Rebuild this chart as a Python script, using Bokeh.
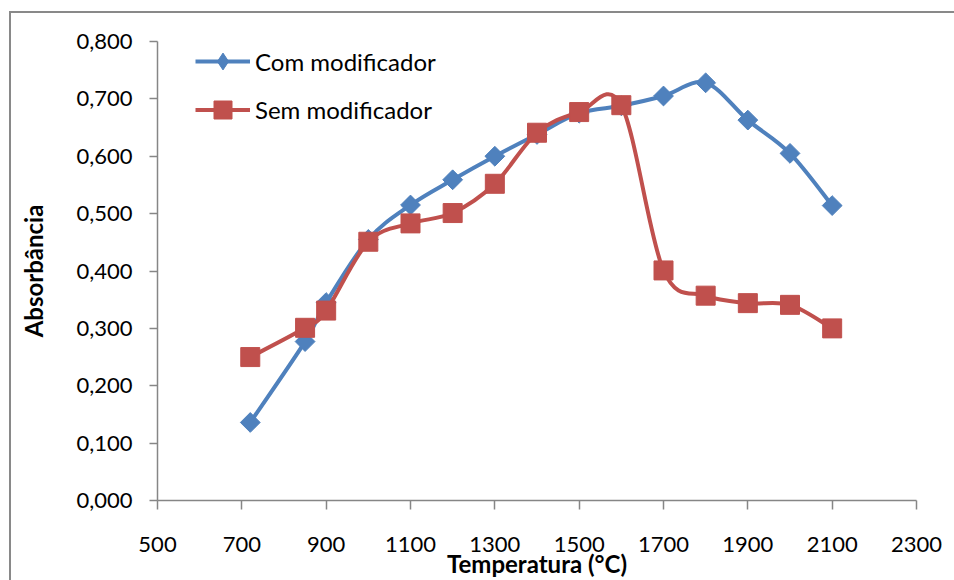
import numpy as np
from bokeh.plotting import figure
from bokeh.models import FixedTicker, CustomJSTickFormatter, Legend, LegendItem, InlineStyleSheet
from bokeh.embed import file_html
from bokeh.resources import INLINE

# ---- data ----
temperatura = [720, 850, 900, 1000, 1100, 1200, 1300, 1400, 1500, 1600, 1700, 1800, 1900, 2000, 2100]
com_modificador = [0.136, 0.277, 0.345, 0.455, 0.515, 0.559, 0.600, 0.638, 0.675, 0.688, 0.705, 0.728, 0.663, 0.605, 0.514]
sem_modificador = [0.250, 0.301, 0.331, 0.451, 0.483, 0.501, 0.552, 0.641, 0.677, 0.689, 0.401, 0.357, 0.344, 0.341, 0.300]
series_names = ["Com modificador", "Sem modificador"]
x_ticks = [500, 700, 900, 1100, 1300, 1500, 1700, 1900, 2100, 2300]
y_ticks = [0.0, 0.1, 0.2, 0.3, 0.4, 0.5, 0.6, 0.7, 0.8]
x_title = "Temperatura (°C)"
y_title = "Absorbância"

BLUE = "#4F81BD"
RED = "#C0504D"
AXIS = "#868686"
FONT = "Lato"


def smooth_segments(xs, ys):
    """Catmull-Rom style Bezier control points (like a spreadsheet's smoothed line)."""
    x = np.asarray(xs, float)
    y = np.asarray(ys, float)
    xp = np.concatenate([[x[0]], x, [x[-1]]])
    yp = np.concatenate([[y[0]], y, [y[-1]]])
    cx0 = x[:-1] + (x[1:] - xp[:-3]) / 6.0
    cy0 = y[:-1] + (y[1:] - yp[:-3]) / 6.0
    cx1 = x[1:] - (xp[3:] - x[:-1]) / 6.0
    cy1 = y[1:] - (yp[3:] - y[:-1]) / 6.0
    return dict(x0=x[:-1], y0=y[:-1], x1=x[1:], y1=y[1:], cx0=cx0, cy0=cy0, cx1=cx1, cy1=cy1)


p = figure(width=954, height=580, x_range=(500, 2300), y_range=(0, 0.8),
           output_backend="svg", toolbar_location=None,
           min_border_left=157, min_border_right=38, min_border_top=41, min_border_bottom=79)
p.outline_line_color = None
p.xgrid.visible = False
p.ygrid.visible = False
p.background_fill_color = "white"
p.border_fill_color = "white"

# outer chart-area border (runs off the page at right and bottom, as in the reference)
p.stylesheets = [InlineStyleSheet(css="""
:host { position: relative; }
:host::after { content: ""; position: absolute; left: 9px; top: 11px; right: 0; bottom: 0;
  border-left: 2px solid #898989; border-top: 2px solid #898989; pointer-events: none; z-index: 10; }
""")]

for ax in (p.xaxis[0], p.yaxis[0]):
    ax.axis_line_color = AXIS
    ax.axis_line_width = 1.5
    ax.major_tick_line_color = AXIS
    ax.major_tick_line_width = 1.5
    ax.minor_tick_line_color = None
    ax.major_tick_in = 0
    ax.major_label_text_font = FONT
    ax.major_label_text_font_size = "22px"
    ax.major_label_text_color = "black"
    ax.axis_label_text_font = FONT
    ax.axis_label_text_font_style = "bold"
    ax.axis_label_text_font_size = "24px"
    ax.axis_label_text_color = "black"

p.xaxis.ticker = FixedTicker(ticks=x_ticks)
p.xaxis.major_tick_out = 9
p.xaxis.major_label_standoff = 27
p.xaxis.axis_label = x_title
p.xaxis.axis_label_standoff = -6

p.yaxis.ticker = FixedTicker(ticks=y_ticks)
p.yaxis.formatter = CustomJSTickFormatter(code="return tick.toFixed(3).replace('.', ',');")
p.yaxis.major_tick_out = 8
p.yaxis.major_label_standoff = 17
p.yaxis.axis_label = y_title
p.yaxis.axis_label_standoff = 25

specs = [
    # values, colour, marker size, angle, legend marker, name, legend glyph height, legend location
    (com_modificador, BLUE, 14, np.pi / 4, "diamond", series_names[0], 42, (38, 418)),
    (sem_modificador, RED, 19, 0, "square", series_names[1], 45, (38, 368)),
]
for ys, color, size, angle, leg_marker, name, gh, loc in specs:
    seg = smooth_segments(temperatura, ys)
    r_line = p.bezier(x0=seg["x0"], y0=seg["y0"], x1=seg["x1"], y1=seg["y1"],
                      cx0=seg["cx0"], cy0=seg["cy0"], cx1=seg["cx1"], cy1=seg["cy1"],
                      line_color=color, line_width=4)
    r_mark = p.scatter(temperatura, ys, marker="square", size=size, angle=angle,
                       fill_color=color, line_color=color)
    # legend key marker (the legend does not rotate markers, so a diamond is used there)
    r_key = p.scatter(temperatura, ys, marker=leg_marker, size=size,
                      fill_color=color, line_color=color, visible=False)
    leg = Legend(items=[LegendItem(label=name, renderers=[r_line, r_key])],
                 location=loc, padding=0, margin=0, spacing=0,
                 glyph_width=55, glyph_height=gh, label_height=gh, label_standoff=5,
                 label_text_font=FONT, label_text_font_size="24px", label_text_color="black",
                 border_line_color=None, background_fill_alpha=0)
    p.add_layout(leg)

open("out.html", "w").write(file_html(p, INLINE))
